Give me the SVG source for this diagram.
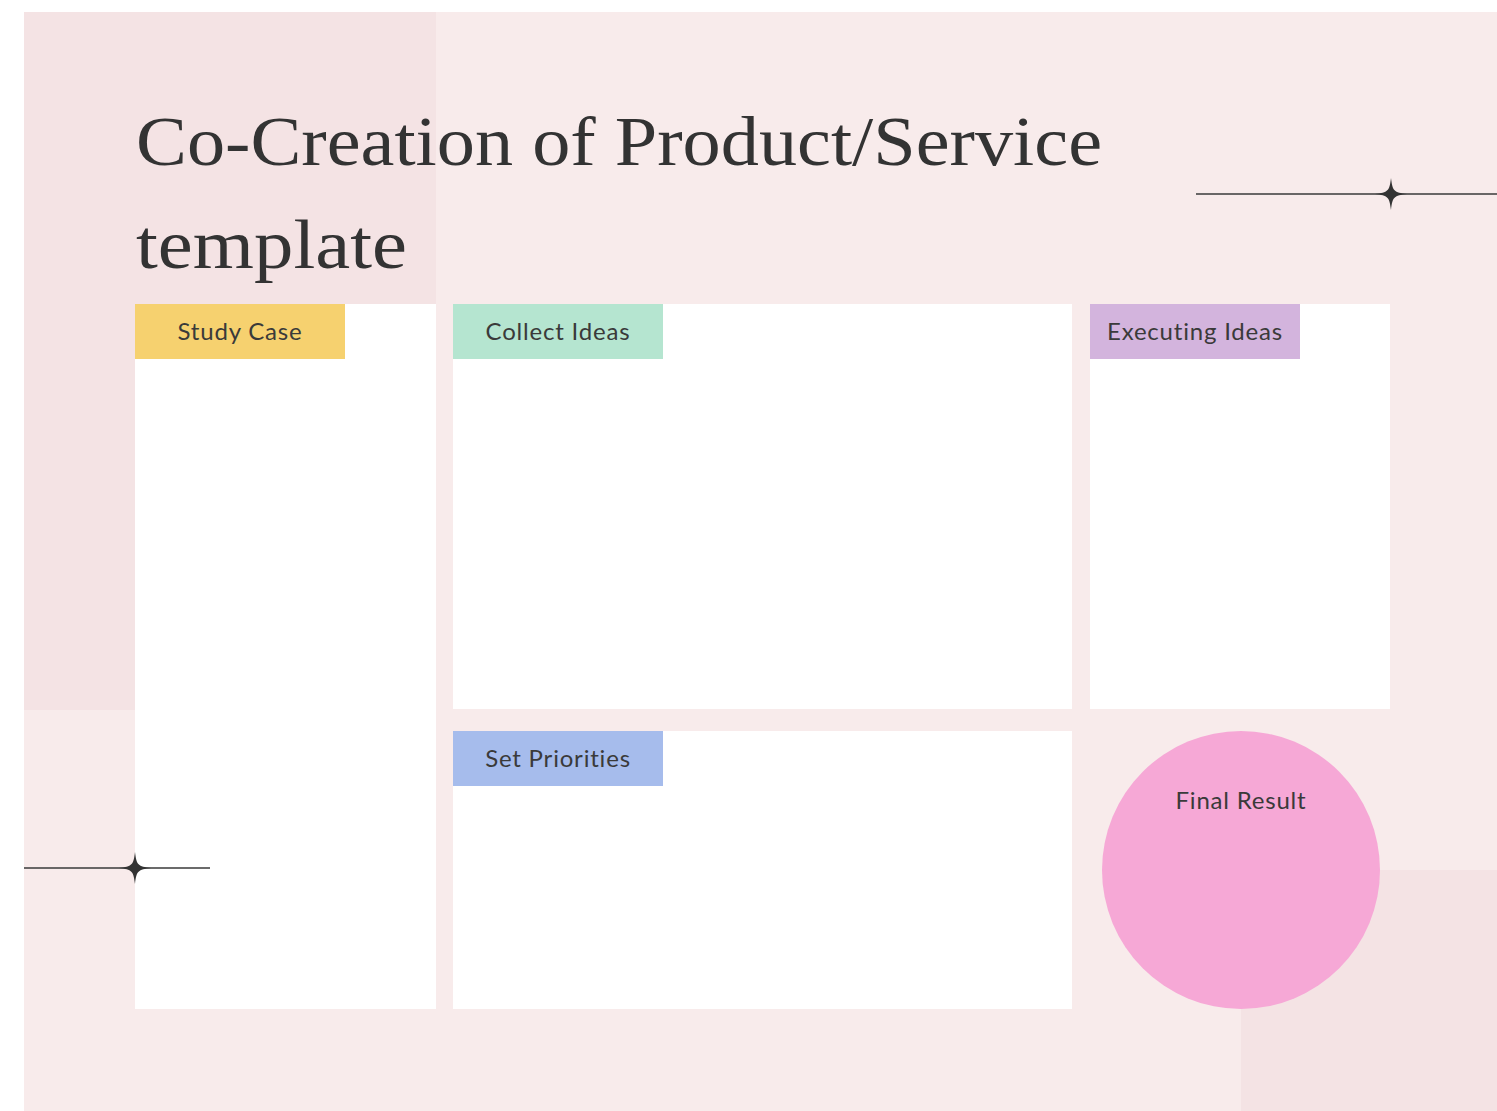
<svg xmlns="http://www.w3.org/2000/svg" width="1497" height="1111" viewBox="0 0 1497 1111">
<style>
.panel{fill:#ffffff}
.lbl{font-family:"Lato","Noto Sans",sans-serif;font-size:24px;fill:#3a3a3a;text-anchor:middle;letter-spacing:0.8px}
.title{font-family:"Liberation Serif","DejaVu Serif",serif;font-size:70px;fill:#333333}
.line{stroke:#3a3a3a;stroke-width:1.6;fill:none}
.star{fill:#333333}
</style>
<defs>
<path id="star" d="M0,-16 C1.5,-3 3,-1.5 16,0 C3,1.5 1.5,3 0,16 C-1.5,3 -3,1.5 -16,0 C-3,-1.5 -1.5,-3 0,-16 Z"/>
</defs>
<rect x="0" y="0" width="1497" height="1111" fill="#ffffff"/>
<rect x="24" y="12" width="1473" height="1099" fill="#f8ebeb"/>
<rect x="24" y="12" width="412" height="698" fill="#f4e3e4"/>
<rect x="1241" y="870" width="256" height="241" fill="#f4e3e4"/>
<g id="title">
<text class="title" x="136" y="165" textLength="966" lengthAdjust="spacingAndGlyphs">Co-Creation of Product/Service</text>
<text class="title" x="136" y="268" textLength="271" lengthAdjust="spacingAndGlyphs">template</text>
</g>
<g id="study-case">
<rect class="panel" x="135" y="304" width="301" height="705"/>
<rect x="135" y="304" width="210" height="55" fill="#f6d16f"/>
<text class="lbl" x="240" y="340">Study Case</text>
</g>
<g id="collect-ideas">
<rect class="panel" x="453" y="304" width="619" height="405"/>
<rect x="453" y="304" width="210" height="55" fill="#b5e5d0"/>
<text class="lbl" x="558" y="340">Collect Ideas</text>
</g>
<g id="executing-ideas">
<rect class="panel" x="1090" y="304" width="300" height="405"/>
<rect x="1090" y="304" width="210" height="55" fill="#d3b4dd"/>
<text class="lbl" x="1195" y="340">Executing Ideas</text>
</g>
<g id="set-priorities">
<rect class="panel" x="453" y="731" width="619" height="278"/>
<rect x="453" y="731" width="210" height="55" fill="#a6bcec"/>
<text class="lbl" x="558" y="767">Set Priorities</text>
</g>
<g id="final-result">
<circle cx="1241" cy="870" r="139" fill="#f6a8d6"/>
<text class="lbl" x="1241" y="809">Final Result</text>
</g>
<g id="decor">
<line class="line" x1="1196" y1="194" x2="1497" y2="194"/>
<use href="#star" class="star" x="1391" y="194"/>
<line class="line" x1="24" y1="868" x2="210" y2="868"/>
<use href="#star" class="star" x="135" y="868"/>
</g>
<g id="connectors"></g>
</svg>
